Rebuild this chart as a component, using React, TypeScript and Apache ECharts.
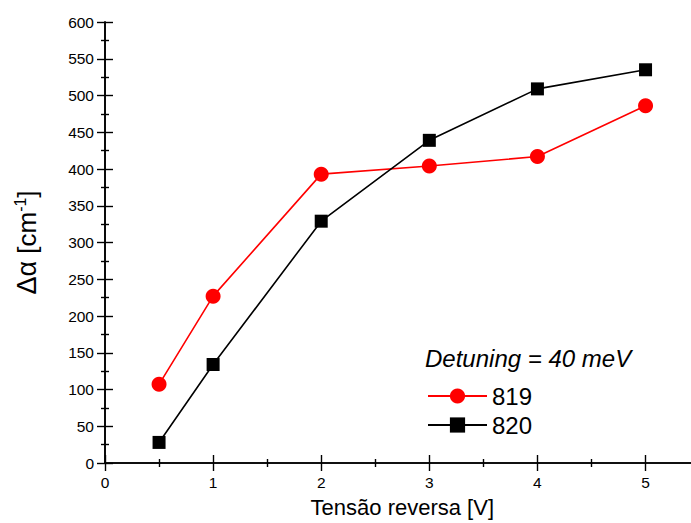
import React, { useEffect, useRef } from "react";
import * as echarts from "echarts";

// Reverse bias voltage (V)
const voltages = [0.5, 1, 2, 3, 4, 5];
// Absorption change Δα (cm^-1) for the two samples
const sample819 = [107, 227, 393, 404, 417, 486];
const sample820 = [28, 134, 329, 439, 509, 535];
const seriesNames = ["819", "820"];
const legendTitle = "Detuning = 40 meV";
const xAxisTitle = "Tensão reversa [V]";

const FONT = "'Liberation Sans', Arial, Helvetica, sans-serif";

export default function App() {
  const ref = useRef<HTMLDivElement>(null);

  useEffect(() => {
    if (!ref.current) return;
    const chart = echarts.init(ref.current, null, { renderer: "svg" });

    const axisLine = { show: true, lineStyle: { color: "#000", width: 1.6 } };
    const axisTick = { show: true, inside: true, length: 8, lineStyle: { color: "#000", width: 1.4 } };
    const minorTick = { show: true, splitNumber: 2, length: 4, lineStyle: { color: "#000", width: 1.4 } };

    chart.setOption({
      animation: false,
      backgroundColor: "#fff",
      textStyle: { fontFamily: FONT },
      // plot frame continues past the right edge of the visible area
      grid: { left: 105, top: 22, width: 594.6, height: 444.5, containLabel: false },
      graphic: [
        {
          type: "text",
          x: 425,
          y: 358,
          style: {
            text: legendTitle,
            font: "italic 24px " + FONT,
            fill: "#000",
            textVerticalAlign: "middle",
          },
        },
      ],
      legend: {
        orient: "vertical",
        left: 422,
        top: 379,
        itemWidth: 59,
        itemHeight: 19,
        itemGap: 5,
        data: seriesNames,
        textStyle: { fontSize: 24, color: "#000", fontFamily: FONT },
      },
      xAxis: [
        {
          type: "value",
          min: 0,
          max: 5.5,
          interval: 1,
          position: "bottom",
          axisLine,
          axisTick,
          minorTick,
          splitLine: { show: false },
          axisLabel: {
            color: "#000",
            fontSize: 15.5,
            margin: 11,
            fontFamily: FONT,
            formatter: (v: number) => (v > 5 ? "" : String(v)),
          },
          name: xAxisTitle,
          nameLocation: "middle",
          nameGap: 33,
          nameTextStyle: { fontSize: 22, color: "#000", fontFamily: FONT },
        },
        {
          type: "value",
          min: 0,
          max: 5.5,
          interval: 1,
          position: "top",
          axisLine,
          axisTick,
          minorTick,
          splitLine: { show: false },
          axisLabel: { show: false },
        },
      ],
      yAxis: [
        {
          type: "value",
          min: 0,
          max: 600,
          interval: 50,
          position: "left",
          axisLine,
          axisTick,
          minorTick,
          splitLine: { show: false },
          axisLabel: { color: "#000", fontSize: 15.5, margin: 11, fontFamily: FONT },
          name: "{g|Δα} {a|[cm}{s|-1}{a|]}",
          nameLocation: "middle",
          nameRotate: 90,
          nameGap: 64,
          nameTextStyle: {
            fontSize: 26,
            color: "#000",
            fontFamily: FONT,
            rich: {
              g: { fontSize: 27, color: "#000", fontFamily: FONT },
              a: { fontSize: 26, color: "#000", fontFamily: FONT },
              s: { fontSize: 16, color: "#000", fontFamily: FONT, padding: [0, 0, 13, 0] },
            },
          },
        },
        {
          type: "value",
          min: 0,
          max: 600,
          interval: 50,
          position: "right",
          axisLine,
          axisTick,
          minorTick,
          splitLine: { show: false },
          axisLabel: { show: false },
        },
      ],
      series: [
        {
          name: seriesNames[0],
          type: "line",
          data: voltages.map((v, i) => [v, sample819[i]]),
          symbol: "circle",
          symbolSize: 15,
          color: "#ff0000",
          lineStyle: { color: "#ff0000", width: 1.6 },
          itemStyle: { color: "#ff0000" },
        },
        {
          name: seriesNames[1],
          type: "line",
          data: voltages.map((v, i) => [v, sample820[i]]),
          symbol: "rect",
          symbolSize: 13,
          color: "#000",
          lineStyle: { color: "#000", width: 1.6 },
          itemStyle: { color: "#000" },
        },
      ],
    });

    return () => chart.dispose();
  }, []);

  return (
    <div
      style={{
        position: "fixed",
        left: 0,
        top: 0,
        width: 691,
        height: 523,
        overflow: "hidden",
        background: "#fff",
      }}
    >
      <div ref={ref} style={{ width: 720, height: 523 }} />
    </div>
  );
}
